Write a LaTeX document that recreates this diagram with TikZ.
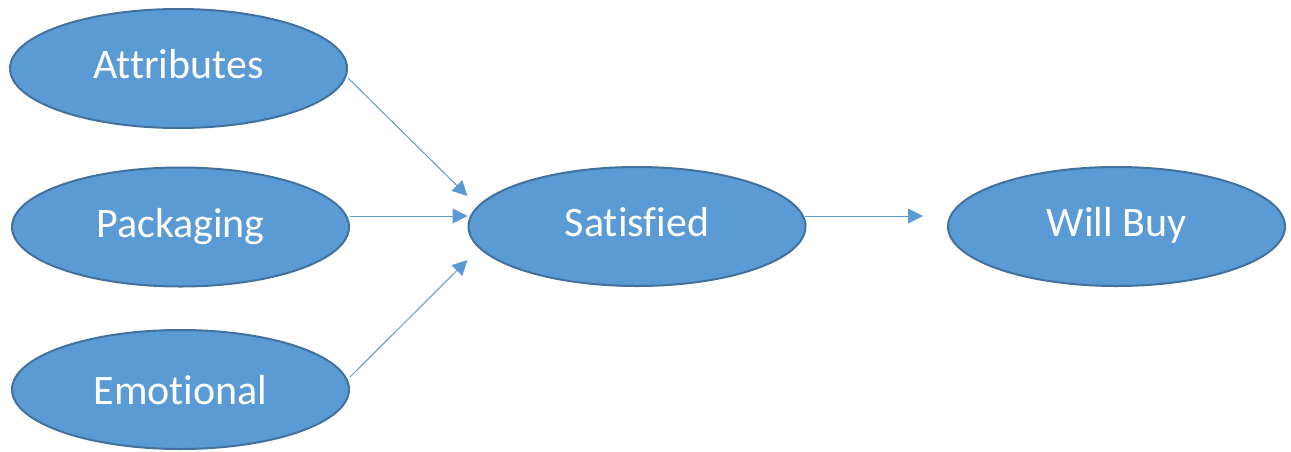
\documentclass[tikz,border=0pt]{standalone}
\usepackage{fontspec}
\setmainfont{Carlito}[Ligatures={NoCommon}]
\usetikzlibrary{shapes.geometric,arrows.meta,calc}
\definecolor{ofill}{HTML}{5B9BD5}
\definecolor{oedge}{HTML}{41719C}
\begin{document}
\begin{tikzpicture}[x=0.75pt,y=-0.75pt,
  oval/.style={ellipse,draw=oedge,fill=ofill,line width=1.5pt,
    minimum width=337*0.75pt,minimum height=119*0.75pt,inner sep=0pt,
    text=white,font=\fontsize{31.5pt}{38pt}\selectfont,
    text height=26.5*0.75pt,text depth=6*0.75pt},
  conn/.style={draw=ofill,line width=0.75pt,
    -{Triangle[length=15*0.75pt,width=15*0.75pt]}}]
\useasboundingbox (0,0) rectangle (1291,451);
\node[oval] (att) at (178.5,68.5) {Attributes};
\node[oval] (pkg) at (180.5,227) {Packaging};
\node[oval,text height=35*0.75pt] (emo) at (180.5,389.5) {Emotional};
\node[oval] (sat) at (637,226.5) {Satisfied};
\node[oval] (wb) at (1116.5,226.5) {Will Buy};
\coordinate (t1) at ($(sat.west)+(0,-30.5)$);
\coordinate (t2) at ($(sat.west)+(0,-10.5)$);
\coordinate (t3) at ($(sat.west)+(0,33.5)$);
\coordinate (t4) at ($(wb.west)+(-24,-10.5)$);
\draw[conn] ($(att.east)+(0,9.5)$) -- (t1);
\draw[conn] ($(pkg.east)+(0,-11)$) -- (t2);
\draw[conn] ($(emo.east)+(0,-12.5)$) -- (t3);
\draw[conn] ($(sat.east)+(-2,-10.5)$) -- (t4);
\end{tikzpicture}
\end{document}
